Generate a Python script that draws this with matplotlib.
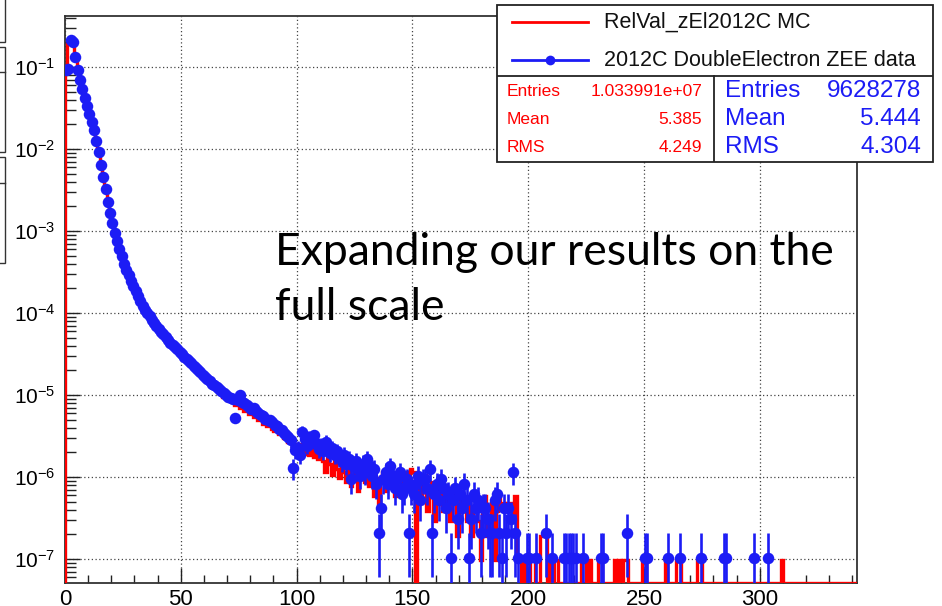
import numpy as np
import matplotlib.pyplot as plt
from matplotlib.patches import Rectangle
from matplotlib.ticker import MultipleLocator

plt.rcParams['font.family'] = ['Liberation Sans', 'DejaVu Sans']
plt.rcParams['mathtext.fontset'] = 'custom'
plt.rcParams['mathtext.rm'] = 'Liberation Sans'
plt.rcParams['mathtext.it'] = 'Liberation Sans:italic'
plt.rcParams['mathtext.bf'] = 'Liberation Sans:bold'

# histogram binning: unit bins starting at 0
n_bins = 343
mc_entries = 10339910
data_entries = 9628278

mc_label = 'RelVal_zEl2012C MC'
data_label = '2012C DoubleElectron ZEE data'
mc_stats = [('Entries', '1.033991e+07'), ('Mean', '5.385'), ('RMS', '4.249')]
data_stats = [('Entries', '9628278'), ('Mean', '5.444'), ('RMS', '4.304')]

# log10 of the normalised content, bins 0..99
mc_log_head = [
    -1.03, -0.72, -0.68, -0.70, -0.88, -1.05, -1.16, -1.27, -1.38, -1.48,
    -1.58, -1.68, -1.78, -1.91, -2.05, -2.20, -2.35, -2.50, -2.65, -2.79,
    -2.91, -3.03, -3.13, -3.23, -3.32, -3.41, -3.48, -3.55, -3.62, -3.68,
    -3.74, -3.80, -3.86, -3.92, -3.97, -4.01, -4.05, -4.09, -4.13, -4.17,
    -4.21, -4.24, -4.27, -4.31, -4.34, -4.37, -4.40, -4.43, -4.46, -4.49,
    -4.52, -4.55, -4.58, -4.61, -4.63, -4.67, -4.69, -4.71, -4.75, -4.77,
    -4.81, -4.83, -4.85, -4.89, -4.90, -4.94, -4.96, -4.97, -5.02, -5.01,
    -5.06, -5.05, -5.09, -5.12, -5.11, -5.16, -5.15, -5.19, -5.18, -5.23,
    -5.22, -5.27, -5.25, -5.31, -5.29, -5.35, -5.33, -5.38, -5.36, -5.42,
    -5.44, -5.41, -5.48, -5.46, -5.52, -5.50, -5.57, -5.54, -5.62, -5.60,
]
data_log_head = [
    -1.04, -1.02, -0.67, -0.69, -0.88, -1.04, -1.16, -1.27, -1.38, -1.48,
    -1.57, -1.67, -1.77, -1.90, -2.04, -2.19, -2.34, -2.49, -2.64, -2.78,
    -2.90, -3.02, -3.12, -3.22, -3.31, -3.40, -3.47, -3.54, -3.61, -3.67,
    -3.73, -3.79, -3.85, -3.91, -3.96, -4.00, -4.04, -4.08, -4.12, -4.16,
    -4.19, -4.23, -4.26, -4.29, -4.33, -4.36, -4.39, -4.41, -4.44, -4.47,
    -4.50, -4.53, -4.56, -4.59, -4.61, -4.64, -4.67, -4.70, -4.72, -4.75,
    -4.78, -4.81, -4.83, -4.86, -4.88, -4.90, -4.93, -4.95, -4.98, -5.00,
    -5.02, -5.03, -5.05, -5.28, -5.06, -5.00, -5.08, -5.10, -5.12, -5.15,
    -5.17, -5.16, -5.20, -5.22, -5.24, -5.26, -5.29, -5.31, -5.30, -5.33,
    -5.36, -5.38, -5.41, -5.43, -5.46, -5.49, -5.51, -5.55, -5.89, -5.67,
]

# raw entries, bins 100..199
mc_tail_counts = [
    24, 22, 26, 20, 23, 19, 24, 18, 21, 17,
    20, 16, 12, 18, 15, 11, 17, 13, 10, 14,
    12, 9, 13, 8, 11, 14, 7, 10, 12, 9,
    13, 8, 11, 6, 10, 5, 9, 12, 7, 10,
    8, 11, 6, 9, 12, 7, 10, 12, 8, 13,
    12, 0, 9, 5, 8, 11, 4, 7, 9, 3,
    8, 6, 10, 4, 7, 5, 3, 8, 6, 2,
    7, 4, 5, 3, 6, 2, 4, 5, 3, 1,
    4, 6, 2, 3, 5, 1, 4, 6, 5, 5,
    4, 5, 5, 3, 6, 1, 1, 0, 1, 0,
]
data_tail_counts = [
    22, 18, 34, 28, 23, 30, 26, 31, 25, 21,
    24, 20, 26, 23, 19, 22, 18, 20, 17, 15,
    18, 14, 16, 9, 13, 15, 12, 10, 14, 11,
    16, 13, 10, 12, 8, 2, 4, 9, 11, 8,
    13, 10, 7, 9, 11, 6, 7, 9, 2, 7,
    6, 8, 10, 5, 9, 9, 7, 12, 2, 6,
    8, 5, 9, 7, 4, 6, 1, 5, 7, 3,
    6, 4, 8, 5, 1, 3, 6, 4, 5, 2,
    4, 4, 3, 2, 2, 5, 6, 2, 1, 4,
    2, 4, 3, 11, 2, 1, 0, 0, 0, 1,
]

# sparse far tail: bin -> entries
mc_far = {201: 1, 202: 1, 205: 2, 206: 2, 207: 2, 209: 1, 211: 1, 212: 1,
          223: 1, 224: 1, 226: 1, 230: 1, 231: 1, 237: 1, 239: 1, 241: 1,
          242: 1, 249: 1, 250: 1, 259: 1, 264: 1, 265: 1, 273: 1, 274: 1,
          309: 1}
data_far = {200: 1, 203: 1, 207: 2, 210: 1, 215: 1, 216: 1, 217: 1, 218: 1,
            219: 1, 220: 1, 223: 1, 231: 1, 232: 1, 242: 2, 250: 1, 251: 1,
            260: 1, 265: 1, 274: 1, 284: 1, 285: 1, 297: 1, 303: 1}


def build(log_head, tail_counts, far, entries):
    h = np.zeros(n_bins)
    h[:100] = 10.0 ** np.array(log_head)
    h[100:200] = np.array(tail_counts) / entries
    for b, c in far.items():
        h[b] = c / entries
    return h


mc = build(mc_log_head, mc_tail_counts, mc_far, mc_entries)
data = build(data_log_head, data_tail_counts, data_far, data_entries)
data_err = np.sqrt(data * data_entries) / data_entries

edges = np.arange(n_bins + 1)
centers = edges[:-1] + 0.5

W, H = 942, 606
RED = '#ff0000'
BLUE = '#1c1cf5'
ymin, ymax = 5.1e-8, 0.42


def fx(x):
    return x / W


def fy(y):
    return 1 - y / H


fig = plt.figure(figsize=(W / 100, H / 100), dpi=100)
ax = fig.add_axes([fx(65), fy(583), fx(857 - 65), (583 - 16) / H])
ax.set_yscale('log', nonpositive='clip')
ax.set_xlim(0, 342)
ax.set_ylim(ymin, ymax)

# MC as an outline histogram; empty bins sit on the frame
ax.stairs(np.where(mc > 0, mc, ymin), edges, baseline=ymin,
          color=RED, lw=2.4, zorder=3)

m = data > 0
lo = np.minimum(data_err[m], data[m] * (1 - 1e-9))
ax.errorbar(centers[m], data[m], yerr=[lo, data_err[m]], fmt='o',
            color=BLUE, ms=8.3, mew=0, elinewidth=1.9, capsize=0, zorder=4)

ax.grid(True, which='major', ls=(0, (1, 2)), color='#444444', lw=0.9)
ax.xaxis.set_major_locator(MultipleLocator(50))
ax.xaxis.set_minor_locator(MultipleLocator(10))
ax.tick_params(which='both', direction='in', top=False, right=False,
               color='#222222', width=1.0)
ax.tick_params(axis='x', which='major', length=11, pad=4, labelsize=16)
ax.tick_params(axis='x', which='minor', length=6)
ax.tick_params(axis='y', which='major', length=11, pad=7, labelsize=15)
ax.tick_params(axis='y', which='minor', length=8)
for s in ax.spines.values():
    s.set_color('#333333')
    s.set_linewidth(1.3)

# legend and stats boxes, laid out in pixel units
lx0, ly0, lx1, ly1 = 497, 5, 933, 162
lg = fig.add_axes([fx(lx0), fy(ly1), fx(lx1 - lx0), (ly1 - ly0) / H])
lg.set_xlim(lx0, lx1)
lg.set_ylim(ly1, ly0)
lg.axis('off')
lg.add_patch(Rectangle((lx0, ly0), lx1 - lx0, ly1 - ly0, fc='white',
                       ec='#222222', lw=1.3, clip_on=False))
lg.plot([lx0, lx1], [76, 76], color='#222222', lw=1.3)
lg.plot([714, 714], [76, ly1], color='#222222', lw=1.3)
lg.plot([512, 588], [22, 22], color=RED, lw=2.0)
lg.plot([512, 588], [60, 60], color=BLUE, lw=2.0)
lg.plot([550], [60], 'o', color=BLUE, ms=7, mew=0)
lg.text(604, 22, mc_label, fontsize=15.5, va='center', ha='left', color='#111111')
lg.text(604, 60, data_label, fontsize=15.5, va='center', ha='left', color='#111111')
rows = [91, 119, 147]
for (k, v), yy in zip(mc_stats, rows):
    lg.text(507, yy, k, fontsize=12.5, va='center', ha='left', color=RED)
    lg.text(702, yy, v, fontsize=12.5, va='center', ha='right', color=RED)
for (k, v), yy in zip(data_stats, rows):
    lg.text(725, yy, k, fontsize=17.5, va='center', ha='left', color=BLUE)
    lg.text(921, yy, v, fontsize=17.5, va='center', ha='right', color=BLUE)

# slide caption over the plot
fig.text(fx(275), fy(265), 'Expanding our results on the', fontsize=32,
         family=['Lato', 'DejaVu Sans'], color='black', va='baseline')
fig.text(fx(275), fy(320), 'full scale', fontsize=32,
         family=['Lato', 'DejaVu Sans'], color='black', va='baseline')

# edges of neighbouring slide boxes at the left margin
for y0, y1, mid in [(-5, 42, None), (47, 152, 72), (157, 263, 183)]:
    fig.add_artist(Rectangle((fx(-5), fy(y1)), fx(10), (y1 - y0) / H,
                             transform=fig.transFigure, fill=False,
                             ec='#333333', lw=1.0))
    if mid is not None:
        fig.add_artist(plt.Line2D([0, fx(5)], [fy(mid), fy(mid)],
                                  transform=fig.transFigure,
                                  color='#333333', lw=1.0))

fig.savefig('out.png', dpi=100)
